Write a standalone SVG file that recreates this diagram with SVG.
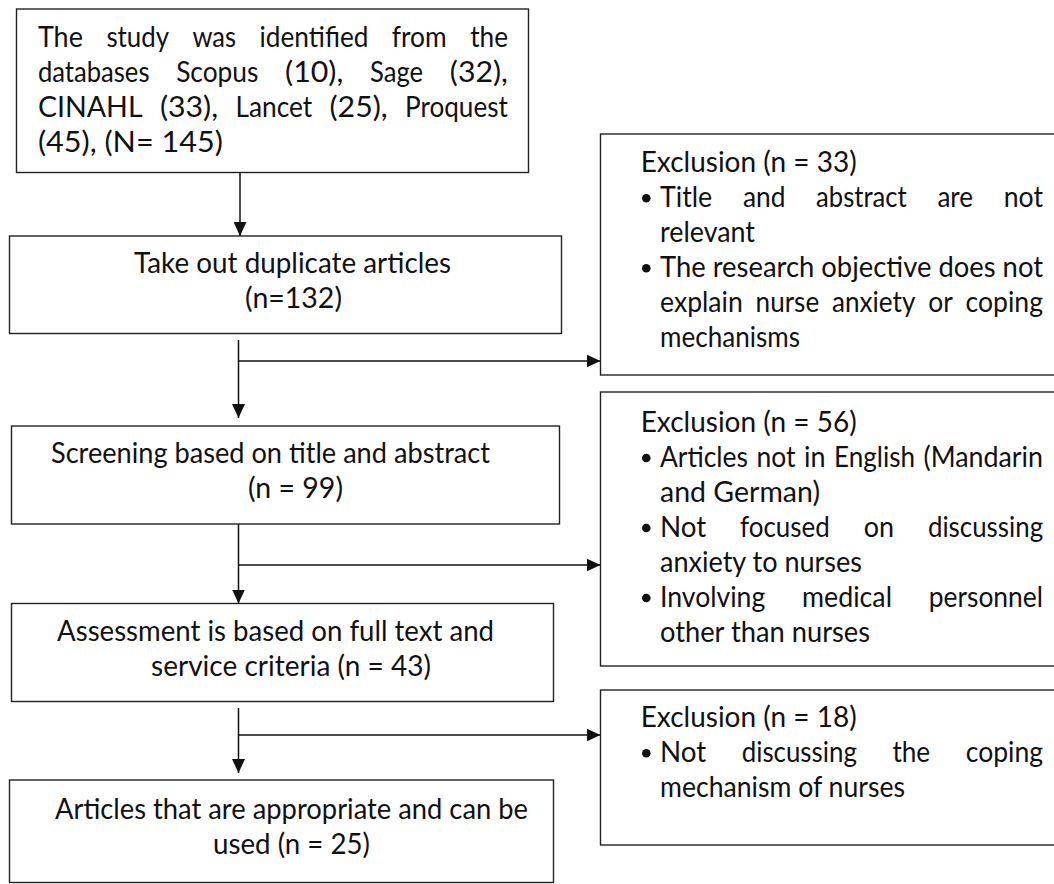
<svg xmlns="http://www.w3.org/2000/svg" width="1054" height="884" viewBox="0 0 1054 884">
<style>
.box{fill:#fff;stroke:#222;stroke-width:1.4}
.t{font-family:Lato,"Open Sans","Liberation Sans",sans-serif;font-size:28px;fill:#111}
.c{fill:none;stroke:#111;stroke-width:1.5}
.b{fill:#111}
</style>
<defs>
<marker id="ah" markerWidth="14" markerHeight="13" refX="14" refY="6.5" orient="auto" markerUnits="userSpaceOnUse"><path d="M0,0 L14,6.5 L0,13 Z" fill="#111"/></marker>
</defs>
<rect width="1054" height="884" fill="#fff"/>
<g id="connectors">
<path class="c" d="M240,172.5 V236" marker-end="url(#ah)"/>
<path class="c" d="M238.5,340 V418" marker-end="url(#ah)"/>
<path class="c" d="M238.5,361 H600.5" marker-end="url(#ah)"/>
<path class="c" d="M238.5,524 V603.5" marker-end="url(#ah)"/>
<path class="c" d="M238.5,565 H600.5" marker-end="url(#ah)"/>
<path class="c" d="M238.5,708 V773" marker-end="url(#ah)"/>
<path class="c" d="M238.5,735 H600.5" marker-end="url(#ah)"/>
</g>
<g id="identified">
<rect class="box" x="16.5" y="9" width="512" height="163.5"/>
<text class="t" x="37.9" y="46.7" textLength="45" lengthAdjust="spacingAndGlyphs">The</text>
<text class="t" x="106.4" y="46.7" textLength="62.7" lengthAdjust="spacingAndGlyphs">study</text>
<text class="t" x="192.5" y="46.7" textLength="43.5" lengthAdjust="spacingAndGlyphs">was</text>
<text class="t" x="259.5" y="46.7" textLength="108.9" lengthAdjust="spacingAndGlyphs">identified</text>
<text class="t" x="391.8" y="46.7" textLength="54.9" lengthAdjust="spacingAndGlyphs">from</text>
<text class="t" x="470.2" y="46.7" textLength="37.8" lengthAdjust="spacingAndGlyphs">the</text>
<text class="t" x="37.9" y="81.7" textLength="111.6" lengthAdjust="spacingAndGlyphs">databases</text>
<text class="t" x="176.2" y="81.7" textLength="82.2" lengthAdjust="spacingAndGlyphs">Scopus</text>
<text class="t" x="285.1" y="81.7" textLength="58.2" lengthAdjust="spacingAndGlyphs">(10),</text>
<text class="t" x="370" y="81.7" textLength="53.1" lengthAdjust="spacingAndGlyphs">Sage</text>
<text class="t" x="449.8" y="81.7" textLength="58.2" lengthAdjust="spacingAndGlyphs">(32),</text>
<text class="t" x="37.9" y="116.7" textLength="104.7" lengthAdjust="spacingAndGlyphs">CINAHL</text>
<text class="t" x="159.9" y="116.7" textLength="58.2" lengthAdjust="spacingAndGlyphs">(33),</text>
<text class="t" x="235.4" y="116.7" textLength="76.8" lengthAdjust="spacingAndGlyphs">Lancet</text>
<text class="t" x="329.5" y="116.7" textLength="58.2" lengthAdjust="spacingAndGlyphs">(25),</text>
<text class="t" x="405" y="116.7" textLength="102.9" lengthAdjust="spacingAndGlyphs">Proquest</text>
<text class="t" x="37.9" y="151.7" textLength="185" lengthAdjust="spacingAndGlyphs">(45), (N= 145)</text>
</g>
<g id="duplicates">
<rect class="box" x="9.5" y="236" width="552" height="97.5"/>
<text class="t" x="134" y="273.3" textLength="317" lengthAdjust="spacingAndGlyphs">Take out duplicate articles</text>
<text class="t" x="245" y="308.3" textLength="97" lengthAdjust="spacingAndGlyphs">(n=132)</text>
</g>
<g id="screening">
<rect class="box" x="11.5" y="426" width="548" height="98"/>
<text class="t" x="51" y="463.3" textLength="439" lengthAdjust="spacingAndGlyphs">Screening based on title and abstract</text>
<text class="t" x="248" y="498.3" textLength="95" lengthAdjust="spacingAndGlyphs">(n = 99)</text>
</g>
<g id="assessment">
<rect class="box" x="11.5" y="603.5" width="542" height="98"/>
<text class="t" x="57" y="640.7" textLength="437" lengthAdjust="spacingAndGlyphs">Assessment is based on full text and</text>
<text class="t" x="151" y="675.7" textLength="280" lengthAdjust="spacingAndGlyphs">service criteria (n = 43)</text>
</g>
<g id="included">
<rect class="box" x="9.5" y="780" width="544" height="102.5"/>
<text class="t" x="55" y="819" textLength="473" lengthAdjust="spacingAndGlyphs">Articles that are appropriate and can be</text>
<text class="t" x="213" y="854" textLength="157" lengthAdjust="spacingAndGlyphs">used (n = 25)</text>
</g>
<g id="exclusion1">
<rect class="box" x="600.5" y="134" width="460" height="241"/>
<text class="t" x="640.7" y="171.7" textLength="216" lengthAdjust="spacingAndGlyphs">Exclusion (n = 33)</text>
<circle class="b" cx="646.3" cy="198.2" r="4.3"/>
<text class="t" x="660" y="206.7" textLength="52.2" lengthAdjust="spacingAndGlyphs">Title</text>
<text class="t" x="742.9" y="206.7" textLength="42.6" lengthAdjust="spacingAndGlyphs">and</text>
<text class="t" x="816.1" y="206.7" textLength="90.6" lengthAdjust="spacingAndGlyphs">abstract</text>
<text class="t" x="937.4" y="206.7" textLength="35.7" lengthAdjust="spacingAndGlyphs">are</text>
<text class="t" x="1003.7" y="206.7" textLength="39.3" lengthAdjust="spacingAndGlyphs">not</text>
<text class="t" x="660" y="241.7" textLength="95" lengthAdjust="spacingAndGlyphs">relevant</text>
<circle class="b" cx="646.3" cy="268.2" r="4.3"/>
<text class="t" x="660" y="276.7" textLength="383" lengthAdjust="spacingAndGlyphs">The research objective does not</text>
<text class="t" x="660" y="311.7" textLength="82.8" lengthAdjust="spacingAndGlyphs">explain</text>
<text class="t" x="755.6" y="311.7" textLength="63.6" lengthAdjust="spacingAndGlyphs">nurse</text>
<text class="t" x="832" y="311.7" textLength="83.4" lengthAdjust="spacingAndGlyphs">anxiety</text>
<text class="t" x="928.2" y="311.7" textLength="24.6" lengthAdjust="spacingAndGlyphs">or</text>
<text class="t" x="965.6" y="311.7" textLength="77.4" lengthAdjust="spacingAndGlyphs">coping</text>
<text class="t" x="660" y="346.7" textLength="140" lengthAdjust="spacingAndGlyphs">mechanisms</text>
</g>
<g id="exclusion2">
<rect class="box" x="600.5" y="392" width="460" height="274"/>
<text class="t" x="640.7" y="431.5" textLength="216" lengthAdjust="spacingAndGlyphs">Exclusion (n = 56)</text>
<circle class="b" cx="646.3" cy="458" r="4.3"/>
<text class="t" x="660" y="466.5" textLength="88" lengthAdjust="spacingAndGlyphs">Articles</text>
<text class="t" x="756.5" y="466.5" textLength="39" lengthAdjust="spacingAndGlyphs">not</text>
<text class="t" x="804" y="466.5" textLength="21.5" lengthAdjust="spacingAndGlyphs">in</text>
<text class="t" x="834" y="466.5" textLength="81" lengthAdjust="spacingAndGlyphs">English</text>
<text class="t" x="923.5" y="466.5" textLength="119.5" lengthAdjust="spacingAndGlyphs">(Mandarin</text>
<text class="t" x="660" y="501.5" textLength="160" lengthAdjust="spacingAndGlyphs">and German)</text>
<circle class="b" cx="646.3" cy="528" r="4.3"/>
<text class="t" x="660" y="536.5" textLength="46.2" lengthAdjust="spacingAndGlyphs">Not</text>
<text class="t" x="740.1" y="536.5" textLength="89.7" lengthAdjust="spacingAndGlyphs">focused</text>
<text class="t" x="863.7" y="536.5" textLength="30.3" lengthAdjust="spacingAndGlyphs">on</text>
<text class="t" x="927.9" y="536.5" textLength="115.2" lengthAdjust="spacingAndGlyphs">discussing</text>
<text class="t" x="660" y="571.5" textLength="202" lengthAdjust="spacingAndGlyphs">anxiety to nurses</text>
<circle class="b" cx="646.3" cy="598" r="4.3"/>
<text class="t" x="660" y="606.5" textLength="105.3" lengthAdjust="spacingAndGlyphs">Involving</text>
<text class="t" x="802" y="606.5" textLength="90" lengthAdjust="spacingAndGlyphs">medical</text>
<text class="t" x="928.7" y="606.5" textLength="114.3" lengthAdjust="spacingAndGlyphs">personnel</text>
<text class="t" x="660" y="641.5" textLength="210" lengthAdjust="spacingAndGlyphs">other than nurses</text>
</g>
<g id="exclusion3">
<rect class="box" x="600.5" y="690" width="460" height="155"/>
<text class="t" x="640.7" y="726.7" textLength="216" lengthAdjust="spacingAndGlyphs">Exclusion (n = 18)</text>
<circle class="b" cx="646.3" cy="753.2" r="4.3"/>
<text class="t" x="660" y="761.7" textLength="46.2" lengthAdjust="spacingAndGlyphs">Not</text>
<text class="t" x="741.7" y="761.7" textLength="115.2" lengthAdjust="spacingAndGlyphs">discussing</text>
<text class="t" x="892.4" y="761.7" textLength="37.8" lengthAdjust="spacingAndGlyphs">the</text>
<text class="t" x="965.7" y="761.7" textLength="77.4" lengthAdjust="spacingAndGlyphs">coping</text>
<text class="t" x="660" y="796.7" textLength="245" lengthAdjust="spacingAndGlyphs">mechanism of nurses</text>
</g>
</svg>
